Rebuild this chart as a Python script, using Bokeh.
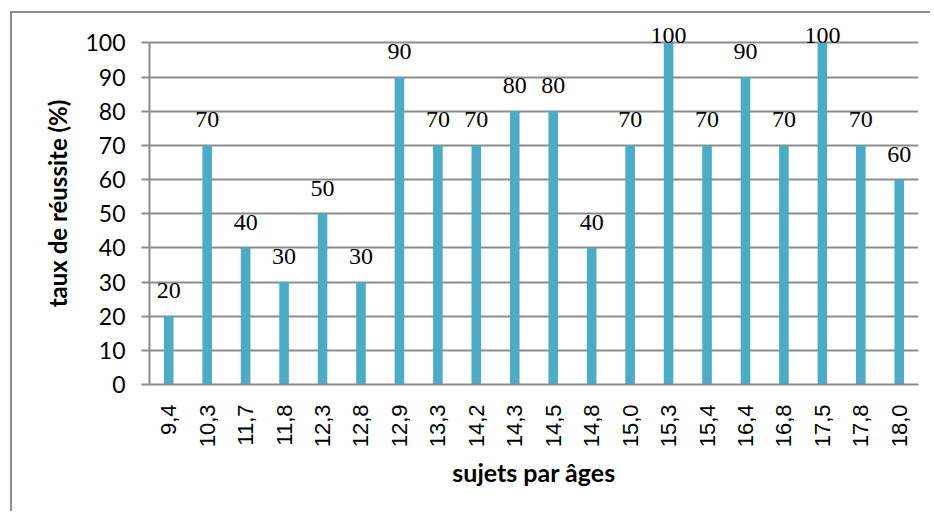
from bokeh.plotting import figure
from bokeh.models import ColumnDataSource, FactorRange, Range1d, FixedTicker, LabelSet
from bokeh.embed import file_html
from bokeh.resources import INLINE
import math

ages = ["9,4", "10,3", "11,7", "11,8", "12,3", "12,8", "12,9", "13,3", "14,2", "14,3",
        "14,5", "14,8", "15,0", "15,3", "15,4", "16,4", "16,8", "17,5", "17,8", "18,0"]
taux = [20, 70, 40, 30, 50, 30, 90, 70, 70, 80, 80, 40, 70, 100, 70, 90, 70, 100, 70, 60]
y_ticks = [0, 10, 20, 30, 40, 50, 60, 70, 80, 90, 100]

labels = [str(v) for v in taux]
label_off = [0 if v >= 100 else 18 for v in taux]

src = ColumnDataSource(dict(x=ages, top=taux, lab=labels, off=label_off))

GRID = "#8c8c8c"
BAR = "#4bacc6"

p = figure(width=920, height=500, x_range=FactorRange(*ages, range_padding=0),
           y_range=Range1d(0, 106), output_backend="svg", toolbar_location=None,
           min_border_left=137, min_border_right=14, min_border_top=9, min_border_bottom=129)
p.styles = {"border-left": "2px solid #8c8c8c", "border-top": "2px solid #8c8c8c",
            "margin-left": "10px", "margin-top": "11px"}
p.outline_line_color = None
p.background_fill_color = "white"
p.border_fill_color = "white"

p.vbar(x="x", top="top", width=0.25, source=src, fill_color=BAR, line_color=None)

labs = LabelSet(x="x", y="top", text="lab", source=src, y_offset="off",
                text_align="center", text_baseline="alphabetic",
                text_font="Lato", text_font_size="24px", text_color="black")
p.add_layout(labs)

# grid
p.xgrid.grid_line_color = None
p.ygrid.grid_line_color = GRID
p.ygrid.grid_line_width = 2
p.ygrid.ticker = FixedTicker(ticks=y_ticks)

# y axis
p.yaxis.ticker = FixedTicker(ticks=y_ticks)
p.yaxis.bounds = (0, 100)
p.yaxis.axis_line_color = GRID
p.yaxis.axis_line_width = 2
p.yaxis.major_tick_line_color = GRID
p.yaxis.major_tick_line_width = 2
p.yaxis.major_tick_out = 8
p.yaxis.major_tick_in = 0
p.yaxis.minor_tick_line_color = None
p.yaxis.major_label_text_font = "Lato"
p.yaxis.major_label_text_font_size = "23px"
p.yaxis.major_label_text_color = "black"
p.yaxis.major_label_standoff = 16
p.yaxis.axis_label = "taux de réussite (%)"
p.yaxis.axis_label_text_font = "Lato"
p.yaxis.axis_label_text_font_style = "bold"
p.yaxis.axis_label_text_font_size = "24px"
p.yaxis.axis_label_text_color = "black"
p.yaxis.axis_label_standoff = 10

# x axis
p.xaxis.axis_line_color = GRID
p.xaxis.axis_line_width = 2
p.xaxis.major_tick_line_color = None
p.xaxis.major_tick_out = 0
p.xaxis.major_tick_in = 0
p.xaxis.minor_tick_line_color = None
p.xaxis.major_label_orientation = math.pi / 2
p.xaxis.major_label_text_font = "Liberation Sans"
p.xaxis.major_label_text_font_size = "22px"
p.xaxis.major_label_text_color = "black"
p.xaxis.major_label_standoff = 20
p.xaxis.axis_label = "sujets par âges"
p.xaxis.axis_label_text_font = "Lato"
p.xaxis.axis_label_text_font_style = "bold"
p.xaxis.axis_label_text_font_size = "25px"
p.xaxis.axis_label_text_color = "black"
p.xaxis.axis_label_standoff = 7

open("out.html", "w").write(file_html(p, INLINE))
